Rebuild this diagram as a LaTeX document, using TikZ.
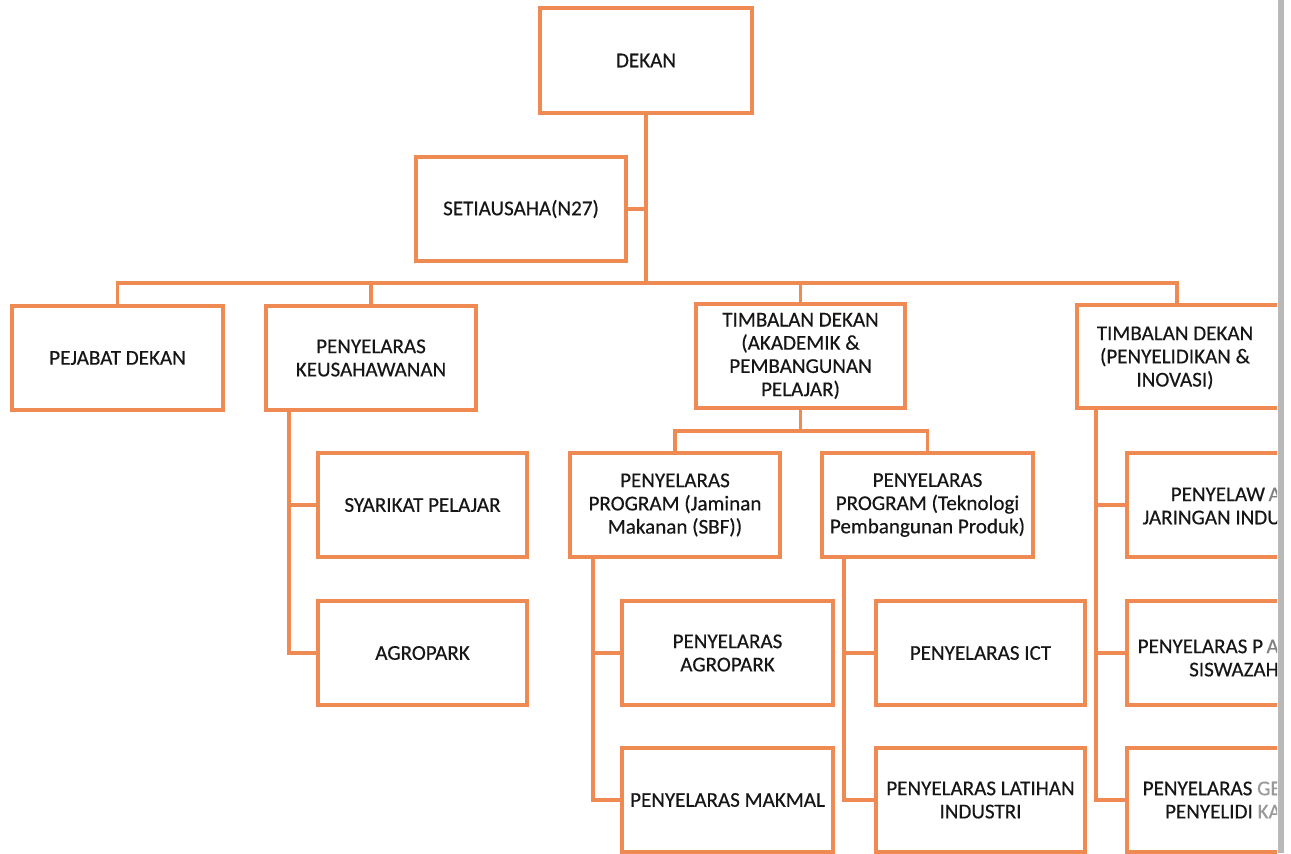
\documentclass[tikz,border=0pt]{standalone}
\usepackage{fontspec}
\setmainfont[FakeBold=0.4]{Carlito}
\definecolor{orgline}{RGB}{238,138,82}
\definecolor{txtcol}{RGB}{22,22,22}
\begin{document}
\begin{tikzpicture}[x=0.75pt,y=-0.75pt,
  txtfont/.style={font=\fontsize{15.8}{17.4}\selectfont},
  box/.style={draw=orgline,line width=3.2pt,rectangle,align=center,inner sep=2pt,text=txtcol,txtfont,fill=white},
  sz/.style 2 args={minimum width=#1*0.75pt,minimum height=#2*0.75pt},
  conn/.style={draw=orgline,line width=2.6pt},
  lbl/.style={text=txtcol,txtfont,align=right,inner sep=0pt}]
\useasboundingbox[fill=white] (0,0) rectangle (1291,853);
\begin{scope}
\clip (0,0) rectangle (1277,853);
% level 0/1
\node[box,sz={212}{105}] (dekan) at (646,60.5) {DEKAN};
\node[box,sz={210}{104}] (setia) at (521,209) {SETIAUSAHA(N27)};
% level 2
\node[box,sz={211}{104}] (pejabat) at (117.5,358) {PEJABAT DEKAN};
\node[box,sz={210}{104}] (keus) at (371,358) {PENYELARAS\\KEUSAHAWANAN};
\node[box,sz={209}{104}] (akad) at (800.5,356) {TIMBALAN DEKAN\\(AKADEMIK \&\\PEMBANGUNAN\\PELAJAR)};
\node[box,sz={330}{103},anchor=west] (tdp) at (1075,356.5) {};
\node[lbl,align=center] (tdptxt) at (1175,358) {TIMBALAN DEKAN\\(PENYELIDIKAN \&\\INOVASI)};
% keusahawanan children
\node[box,sz={209}{104}] (syar) at (422.5,505) {SYARIKAT PELAJAR};
\node[box,sz={209}{104}] (agro) at (422.5,653) {AGROPARK};
% akademik children
\node[box,sz={210}{104}] (prog1) at (675,505) {PENYELARAS\\PROGRAM (Jaminan\\Makanan (SBF))};
\node[box,sz={211}{104}] (prog2) at (927.5,505) {PENYELARAS\\PROGRAM (Teknologi\\Pembangunan Produk)};
\node[box,sz={211}{104}] (pagro) at (727.5,653) {PENYELARAS\\AGROPARK};
\node[box,sz={211}{104}] (makmal) at (727.5,800) {PENYELARAS MAKMAL};
\node[box,sz={209}{104}] (ict) at (980.5,653) {PENYELARAS ICT};
\node[box,sz={209}{104}] (latihan) at (980.5,800) {PENYELARAS LATIHAN\\INDUSTRI};
% penyelidikan children (clipped)
\node[box,sz={300}{104},anchor=west] (r1) at (1125,505) {};
\node[box,sz={300}{104},anchor=west] (r2) at (1125,653) {};
\node[box,sz={300}{104},anchor=west] (r3) at (1125,800) {};
\node[lbl,anchor=east] (r1t) at (1281,506) {PENYELAW\,{\color{gray}A}\\JARINGAN INDU};
\node[lbl,anchor=east] (r2t) at (1279,658) {PENYELARAS P\,{\color{gray}A}\\SISWAZAH\hspace{3pt}};
\node[lbl,anchor=east] (r3t) at (1281,800) {PENYELARAS {\color{gray!80}GE}\\PENYELIDI {\color{gray!80}KA}};
% coordinates
\coordinate (bus) at (647,283);
\coordinate (tdptop) at (1177,305);
\coordinate (ks) at (289,410);
\coordinate (abus) at (800,431);
\coordinate (p1s) at (593,557);
\coordinate (p2s) at (844,557);
\coordinate (tds) at (1096,408);
% connectors
\draw[conn] (dekan.south) -- (dekan.south |- bus);
\draw[conn] (setia.east) -- (setia.east -| dekan.south);
\draw[conn] (pejabat.north) |- (bus) -| (tdptop);
\draw[conn] (keus.north) -- (keus.north |- bus);
\draw[conn] (akad.north) -- (akad.north |- bus);
\draw[conn] (ks) |- (agro.west);
\draw[conn] (syar.west) -- (syar.west -| ks);
\draw[conn] (akad.south) -- (akad.south |- abus);
\draw[conn] (prog1.north) |- (abus) -| (prog2.north);
\draw[conn] (p1s) |- (makmal.west);
\draw[conn] (pagro.west) -- (pagro.west -| p1s);
\draw[conn] (p2s) |- (latihan.west);
\draw[conn] (ict.west) -- (ict.west -| p2s);
\draw[conn] (tds) |- (r3.west);
\draw[conn] (r1.west) -- (r1.west -| tds);
\draw[conn] (r2.west) -- (r2.west -| tds);
\end{scope}
\fill[gray!55] (1278,0) rectangle (1284,853);
\end{tikzpicture}
\end{document}
